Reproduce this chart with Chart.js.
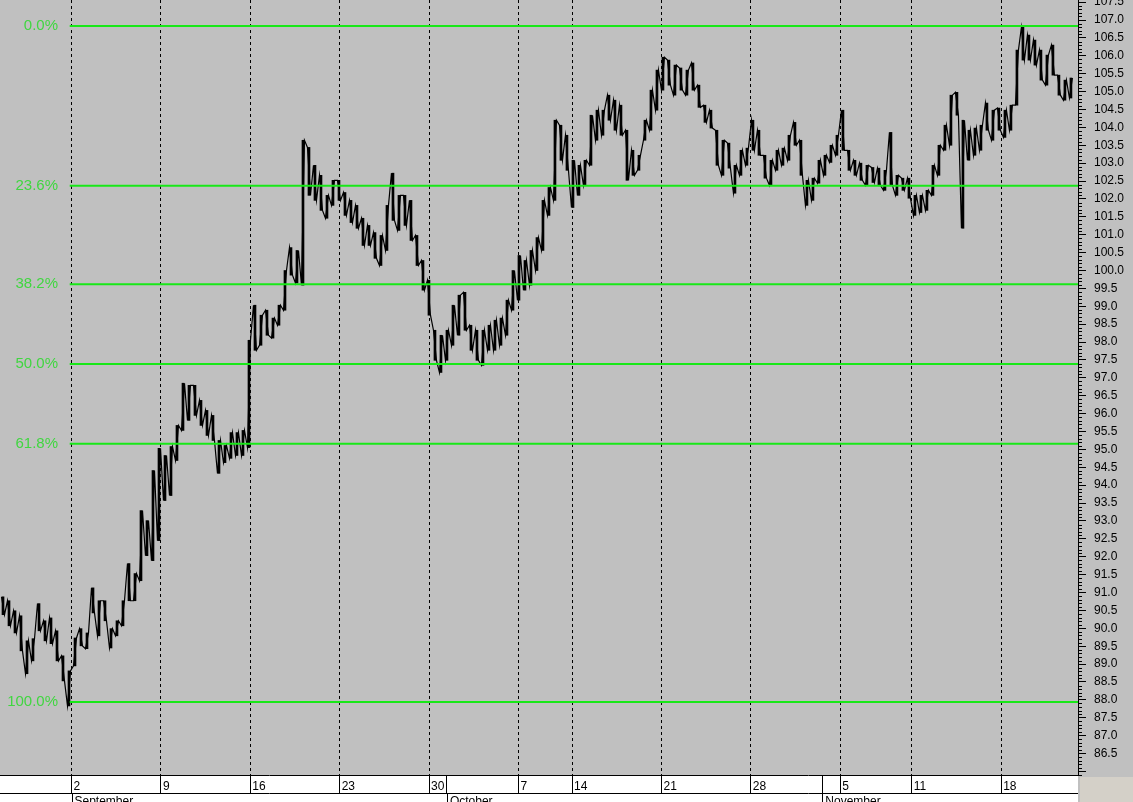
<!DOCTYPE html>
<html>
<head>
<meta charset="utf-8">
<title>Fibonacci retracement</title>
<style>
  html, body { margin: 0; padding: 0; background: #c0c0c0; }
  #wrap { width: 1133px; height: 802px; }
</style>
</head>
<body>
<div id="wrap"><canvas id="myChart" width="1133" height="802"></canvas></div>
<script src="https://cdn.jsdelivr.net/npm/chart.js"></script>
<script>
'use strict';

// x axis is in trading days from the left edge; one sample is about a third of a day
var BIN = 0.3356;

var highs = [
  90.88, 90.77, 90.49, 90.35, 89.65, 89.71, 90.69, 90.21, 90.29, 89.93,
  89.23, 88.81, 89.73, 89.99, 89.87, 91.13, 90.77, 90.77, 89.99, 90.21,
  90.77, 91.81, 91.53, 93.29, 93.01, 94.41, 95.03, 94.83, 95.08, 95.67,
  96.85, 96.79, 96.79, 96.37, 96.09, 95.95, 95.25, 95.11, 95.47, 95.47,
  95.53, 98.05, 99.03, 98.75, 98.89, 98.67, 99.03, 100.00, 100.64, 100.56,
  103.64, 103.44, 102.94, 102.66, 102.10, 102.52, 102.52, 102.18, 101.96, 101.82,
  101.46, 101.26, 101.06, 100.98, 101.82, 102.72, 102.10, 102.10, 101.96, 100.98,
  100.28, 99.73, 98.33, 98.19, 98.33, 99.03, 99.31, 99.39, 98.47, 98.33,
  98.33, 98.47, 98.61, 98.67, 99.17, 100.00, 100.42, 100.28, 100.56, 100.92,
  101.96, 102.32, 104.20, 104.06, 103.78, 103.08, 102.94, 103.08, 104.34, 104.48,
  104.48, 104.90, 104.76, 104.62, 103.92, 103.36, 103.22, 104.20, 105.04, 105.60,
  105.96, 105.88, 105.74, 105.66, 105.60, 105.80, 105.18, 104.62, 104.48, 103.92,
  103.64, 103.56, 102.94, 103.36, 103.42, 104.20, 103.92, 103.22, 103.08, 103.36,
  103.42, 103.78, 104.14, 103.64, 102.52, 102.58, 103.08, 103.22, 103.50, 103.78,
  104.48, 103.36, 103.08, 103.00, 102.94, 102.88, 102.86, 102.80, 103.86, 102.66,
  102.58, 102.58, 102.10, 102.10, 102.24, 102.94, 103.50, 104.06, 104.90, 104.98,
  104.20, 103.92, 103.98, 104.06, 104.68, 104.48, 104.54, 104.48, 104.62, 106.16,
  106.80, 106.58, 106.44, 106.16, 106.02, 106.30, 105.46, 105.32, 105.38
];

var lows = [
  90.38, 90.07, 89.87, 89.37, 88.73, 89.09, 89.93, 89.65, 89.57, 89.09,
  88.53, 87.83, 88.95, 89.51, 89.43, 90.43, 89.79, 90.21, 89.45, 89.79,
  90.07, 90.77, 90.77, 91.33, 92.03, 91.89, 92.45, 93.57, 93.71, 94.69,
  95.53, 95.81, 95.95, 95.67, 95.39, 95.25, 94.33, 94.63, 94.75, 94.83,
  94.83, 95.05, 97.77, 97.91, 98.19, 98.11, 98.47, 98.89, 99.87, 99.65,
  99.59, 102.10, 101.96, 101.68, 101.46, 101.82, 101.96, 101.54, 101.34, 101.18,
  100.70, 100.70, 100.34, 100.14, 100.56, 101.40, 101.12, 101.26, 100.84, 100.14,
  99.45, 98.75, 97.49, 97.15, 97.49, 97.91, 98.19, 98.33, 97.77, 97.49,
  97.35, 97.77, 97.77, 97.91, 98.19, 98.89, 99.17, 99.45, 99.59, 100.00,
  100.56, 101.54, 101.96, 103.08, 102.80, 101.76, 102.10, 102.38, 102.94, 103.64,
  103.78, 104.20, 103.92, 103.78, 102.52, 102.66, 102.80, 103.64, 103.92, 104.48,
  105.04, 105.18, 104.90, 105.04, 104.90, 105.04, 104.56, 104.14, 103.98, 102.94,
  102.66, 102.86, 102.16, 102.66, 102.94, 103.36, 103.22, 102.58, 102.38, 102.80,
  102.94, 103.08, 103.50, 102.66, 101.82, 101.96, 102.44, 102.66, 103.02, 103.22,
  103.36, 102.80, 102.66, 102.52, 102.38, 102.46, 102.38, 102.24, 102.38, 102.10,
  102.24, 102.02, 101.54, 101.62, 101.68, 102.10, 102.66, 103.36, 103.50, 104.34,
  101.18, 103.08, 103.22, 103.36, 103.92, 103.64, 103.92, 103.72, 103.92, 104.62,
  105.88, 105.88, 105.74, 105.32, 105.18, 105.46, 104.90, 104.76, 104.82
];

// week starts (plus the two month starts that only get a separator)
var tickDays = [4, 9, 14, 19, 24, 25, 29, 32, 37, 42, 46, 47, 51, 56];
var tickLabels = ['2', '9', '16', '23', '30', '', '7', '14', '21', '28', '', '5', '11', '18'];
var monthDays = [4, 25, 46];
var monthNames = ['September', 'October', 'November'];

var fibHigh = 106.83;
var fibLow = 87.94;
var fibStartDay = 3.9;
var fibRatios = [0, 0.236, 0.382, 0.5, 0.618, 1];
var fibLabels = ['0.0%', '23.6%', '38.2%', '50.0%', '61.8%', '100.0%'];

var X_MAX = 60.3;
var Y_MIN = 85.9;
var Y_MAX = 107.56;

var FONT = '"Liberation Sans", Arial, sans-serif';
var GREEN_LINE = 'rgb(24,232,24)';
var GREEN_TEXT = 'rgb(64,214,64)';

(function() {

  // each sample goes low->high or high->low depending on where the next one sits
  var pricePts = [];
  var ranges = [];
  for (var i = 0; i < highs.length; i++) {
    var x = (i + 0.5) * BIN;
    var rising = i + 1 < highs.length ? (highs[i + 1] + lows[i + 1]) > (highs[i] + lows[i]) : true;
    pricePts.push({ x: x - BIN / 4, y: rising ? lows[i] : highs[i] });
    pricePts.push({ x: x + BIN / 4, y: rising ? highs[i] : lows[i] });
    ranges.push({ x: x, y: [lows[i], highs[i]] });
  }

  var fibLevels = fibRatios.map(r => fibHigh - r * (fibHigh - fibLow));

  var datasets = fibLevels.map((lvl, i) => ({
    type: 'line',
    label: fibLabels[i],
    data: [{ x: fibStartDay, y: lvl }, { x: X_MAX, y: lvl }],
    borderColor: GREEN_LINE,
    borderWidth: 2,
    pointRadius: 0,
    order: 1
  }));

  datasets.push({
    type: 'line',
    label: 'price',
    data: pricePts,
    borderColor: '#000',
    borderWidth: 1.2,
    pointRadius: 0,
    tension: 0,
    order: 2
  });

  datasets.push({
    type: 'bar',
    label: 'range',
    data: ranges,
    backgroundColor: '#000',
    borderWidth: 0,
    barThickness: 2,
    grouped: false,
    order: 3
  });

  var bandPlugin = {
    id: 'band',
    beforeDraw: function(chart) {
      var ctx = chart.ctx, a = chart.chartArea;
      ctx.save();
      ctx.fillStyle = '#c0c0c0';
      ctx.fillRect(0, 0, chart.width, chart.height);
      ctx.fillStyle = '#fff';
      ctx.fillRect(0, a.bottom, a.right, chart.height - a.bottom);
      ctx.fillStyle = '#d4d0c8';
      ctx.fillRect(a.right + 2, a.bottom + 2, chart.width - a.right - 2, chart.height - a.bottom - 2);
      ctx.restore();
    },
    afterDraw: function(chart) {
      var ctx = chart.ctx, a = chart.chartArea;
      var xs = chart.scales.x, ys = chart.scales.y;
      ctx.save();

      // band borders
      ctx.strokeStyle = '#000';
      ctx.lineWidth = 1;
      ctx.beginPath();
      ctx.moveTo(0, a.bottom + 0.5);
      ctx.lineTo(a.right, a.bottom + 0.5);
      ctx.moveTo(0, a.bottom + 18.5);
      ctx.lineTo(a.right, a.bottom + 18.5);
      monthDays.forEach(d => {
        var px = Math.round(xs.getPixelForValue(d)) + 0.5;
        ctx.moveTo(px, a.bottom + 18);
        ctx.lineTo(px, chart.height);
      });
      ctx.stroke();

      ctx.fillStyle = '#000';
      ctx.font = '12px ' + FONT;
      ctx.textAlign = 'left';
      ctx.textBaseline = 'top';
      monthDays.forEach((d, i) => {
        ctx.fillText(monthNames[i], xs.getPixelForValue(d) + 3, a.bottom + 21);
      });

      // minor ticks on the price axis
      ctx.beginPath();
      for (var k = Math.ceil(Y_MIN * 10); k <= Math.floor(Y_MAX * 10); k++) {
        if (k % 5 === 0) continue;
        var py = Math.round(ys.getPixelForValue(k / 10)) + 0.5;
        ctx.moveTo(a.right, py);
        ctx.lineTo(a.right + 4, py);
      }
      ctx.stroke();

      // retracement labels
      ctx.fillStyle = GREEN_TEXT;
      ctx.font = '15px ' + FONT;
      ctx.textAlign = 'right';
      ctx.textBaseline = 'middle';
      fibLevels.forEach((lvl, i) => {
        ctx.fillText(fibLabels[i], 58, ys.getPixelForValue(lvl));
      });
      ctx.restore();
    }
  };

  var ctx = document.getElementById('myChart');

  var myChart = new Chart(ctx, {
    type: 'line',
    data: { datasets: datasets },
    plugins: [bandPlugin],
    options: {
      responsive: false,
      animation: false,
      layout: { padding: 0, autoPadding: false },
      plugins: { legend: { display: false }, tooltip: { enabled: false } },
      scales: {
        x: {
          type: 'linear',
          position: 'bottom',
          offset: false,
          min: 0,
          max: X_MAX,
          afterBuildTicks: function(scale) {
            scale.ticks = tickDays.map(d => ({ value: d }));
          },
          afterFit: function(scale) {
            scale.height = 27;
            scale.paddingLeft = 0;
            scale.paddingRight = 0;
          },
          grid: {
            offset: false,
            color: function(c) {
              var idx = c.tick ? tickDays.indexOf(c.tick.value) : -1;
              return idx >= 0 && tickLabels[idx] === '' ? 'rgba(0,0,0,0)' : '#000';
            },
            tickColor: '#000',
            lineWidth: 1,
            tickLength: 18,
            drawTicks: true
          },
          border: { display: false, dash: [3, 3] },
          ticks: {
            autoSkip: false,
            maxRotation: 0,
            align: 'start',
            labelOffset: 2,
            padding: -14,
            color: '#000',
            font: { family: FONT, size: 12 },
            callback: function(v, i) { return tickLabels[i]; }
          }
        },
        y: {
          type: 'linear',
          position: 'right',
          min: Y_MIN,
          max: Y_MAX,
          afterFit: function(scale) {
            scale.width = 55;
            scale.paddingTop = 0;
            scale.paddingBottom = 0;
          },
          grid: {
            drawOnChartArea: false,
            drawTicks: true,
            tickLength: 8,
            color: '#000',
            tickColor: '#000'
          },
          border: { display: true, color: '#000', width: 1 },
          ticks: {
            stepSize: 0.5,
            includeBounds: false,
            autoSkip: false,
            padding: 8,
            color: '#000',
            font: { family: FONT, size: 12 },
            callback: function(v) { return v >= 86.4 ? v.toFixed(1) : ''; }
          }
        }
      }
    }
  });

}());
</script>
</body>
</html>
